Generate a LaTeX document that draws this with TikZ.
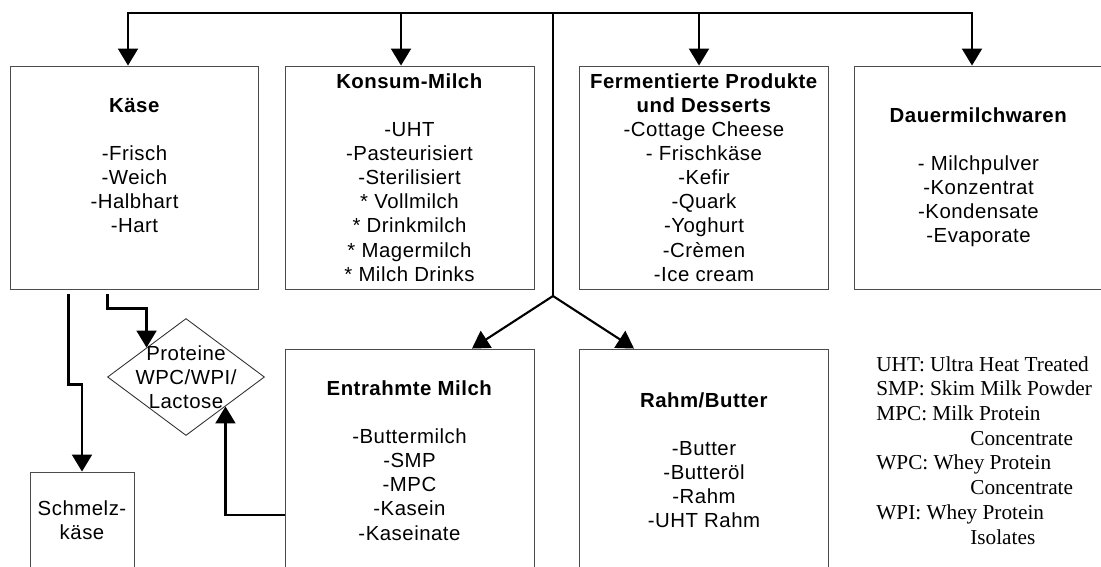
\documentclass[tikz,border=0pt]{standalone}
\usepackage{fontspec}
\setmainfont{Liberation Serif}
\setsansfont[LetterSpace=2.5]{Liberation Sans}
\usetikzlibrary{shapes,arrows.meta,calc}
\def\boxw{4.98cm}
\def\boxh{4.46cm}
\def\rahmen{(0,0) rectangle (1101,566)}
\def\gap{\\[13.7pt]}
\begin{document}
\begin{tikzpicture}[x=0.02cm,y=-0.02cm,
  box/.style={draw=black!70,line width=0.55pt,minimum width=\boxw,minimum height=\boxh,inner sep=0pt,align=center,font=\sffamily\fontsize{11.6}{13.7}\selectfont},
  txt/.style={inner sep=0pt,align=center,font=\sffamily\fontsize{11.6}{13.7}\selectfont},
  line/.style={line width=1.2pt},
  arr/.style={line width=1.2pt,-{Triangle[width=0.4cm,length=0.34cm]}}]
    \clip \rahmen;
    \fill[white] \rahmen;
  \node[box] (kaese) at (134.5,177.5) {\textbf{Käse}\gap -Frisch\\-Weich\\-Halbhart\\-Hart\\ \mbox{}};
  \node[box] (konsum) at (409.5,177.5) {\textbf{Konsum-Milch}\gap -UHT\\-Pasteurisiert\\-Sterilisiert\\{}* Vollmilch\\{}* Drinkmilch\\{}* Magermilch\\{}* Milch Drinks};
  \node[box] (ferm) at (704,177.5) {\textbf{Fermentierte Produkte}\\\textbf{und Desserts}\\-Cottage Cheese\\- Frischkäse\\-Kefir\\-Quark\\-Yoghurt\\-Crèmen\\-Ice cream};
  \node[box] (dauer) at (978.5,177.5) {\textbf{Dauermilchwaren}\gap - Milchpulver\\-Konzentrat\\-Kondensate\\-Evaporate};
  \node[box] (entr) at (409.5,460.5) {\textbf{Entrahmte Milch}\gap -Buttermilch\\-SMP\\-MPC\\-Kasein\\-Kaseinate};
  \node[box] (rahm) at (704,460.5) {\textbf{Rahm/Butter}\gap -Butter\\-Butteröl\\-Rahm\\-UHT Rahm};
  \node[box,minimum width=2.08cm,minimum height=1.92cm] (schmelz) at (82,520) {Schmelz-\\käse};
  \node[diamond,draw=black!80,line width=0.5pt,minimum width=3.14cm,minimum height=2.34cm,inner sep=0pt] (prot) at (186,377) {};
  \node[txt] (prottxt) at (prot.center) {Proteine\\WPC/WPI/\\Lactose};
  \node[anchor=north west,inner sep=0pt,align=left,font=\rmfamily\fontsize{12.1}{14.06}\selectfont] (abk) at (876,356)
     {UHT: Ultra Heat Treated\\SMP: Skim Milk Powder\\MPC: Milk Protein\\\hspace*{1.88cm}Concentrate\\WPC: Whey Protein\\\hspace*{1.88cm}Concentrate\\WPI: Whey Protein\\\hspace*{1.88cm}Isolates};
  \coordinate (busM) at (553,13);
  \coordinate (fork) at (553,296);
    \draw[arr] (busM) -| ([xshift=-0.13cm]kaese.north);
    \draw[arr] (busM) -| ([xshift=-0.13cm]dauer.north);
    \draw[arr] ([xshift=-0.17cm]konsum.north |- busM) -- ([xshift=-0.17cm]konsum.north);
    \draw[arr] ([xshift=-0.1cm]ferm.north |- busM) -- ([xshift=-0.1cm]ferm.north);
    \draw[line] (busM) -- (fork);
    \draw[arr] (fork) -- ($(entr.north west)!0.75!(entr.north east)$);
    \draw[arr] (fork) -- ($(rahm.north west)!0.22!(rahm.north east)$);
  \coordinate (k1) at ($(kaese.south west)+(59,5)$);
  \coordinate (k2) at ($(kaese.south west)+(98,5)$);
    \draw[arr] (k1) -- ++(0,90) -| (schmelz.north);
    \draw[arr] (k2) -- ++(0,14) -| (prot.north west);
    \draw[arr] ($(entr.west)+(0,54.5)$) -| (prot.south east);
\end{tikzpicture}
\end{document}
